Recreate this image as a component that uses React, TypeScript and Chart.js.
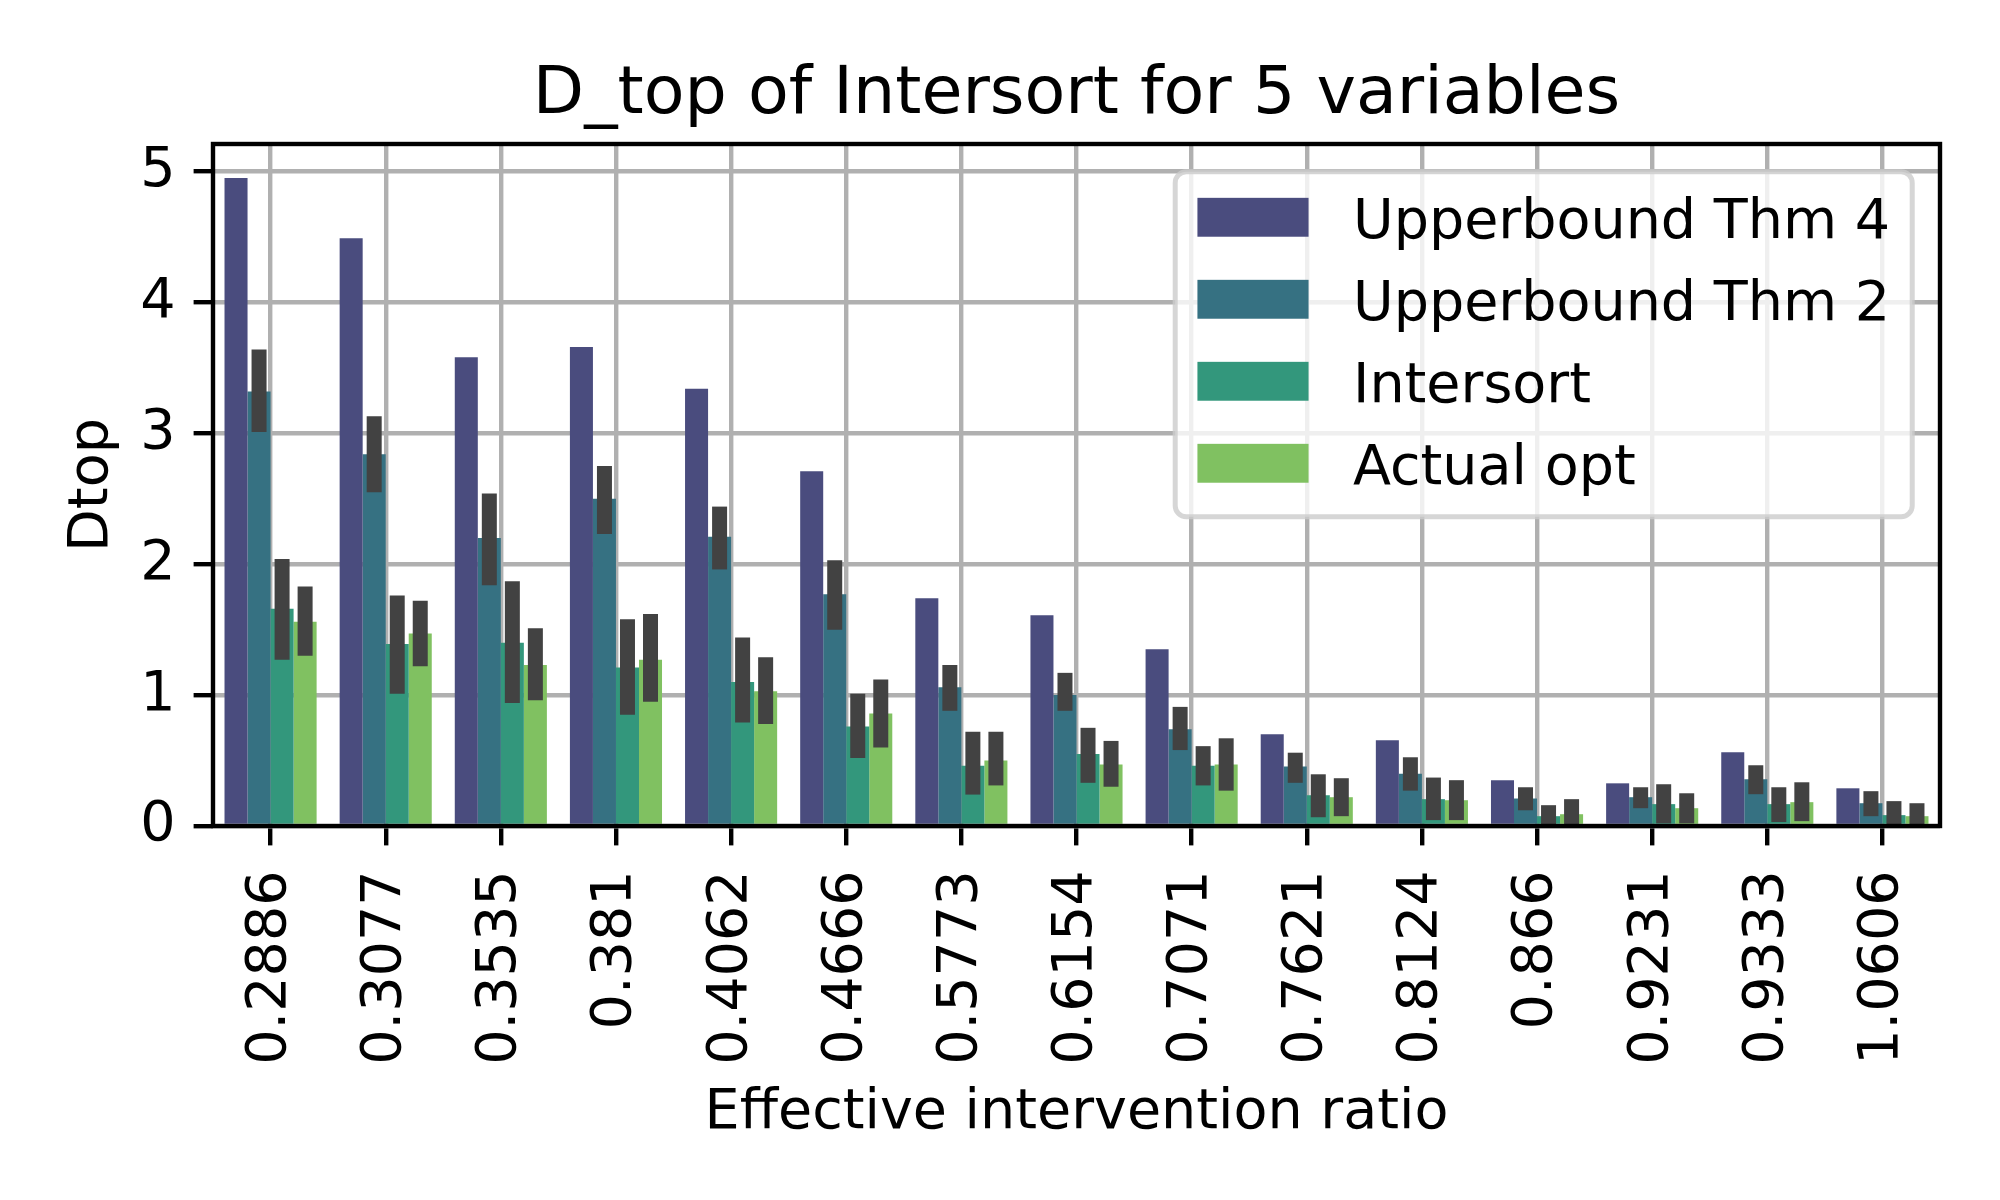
import React, { useEffect, useRef } from "react";
import { Chart, registerables } from "chart.js";

Chart.register(...registerables);

const categories = [
  "0.2886", "0.3077", "0.3535", "0.381", "0.4062", "0.4666", "0.5773", "0.6154",
  "0.7071", "0.7621", "0.8124", "0.866", "0.9231", "0.9333", "1.0606",
];

const chartTitle = "D_top of Intersort for 5 variables";
const xTitle = "Effective intervention ratio";
const yTitle = "Dtop";

const seriesLabels = ["Upperbound Thm 4", "Upperbound Thm 2", "Intersort", "Actual opt"];
const seriesColors = ["#4a4c7e", "#367182", "#33977c", "#80c161"];

const thm4 = [4.95, 4.49, 3.58, 3.66, 3.34, 2.71, 1.74, 1.61, 1.35, 0.70, 0.655, 0.35, 0.326, 0.563, 0.288];

const thm2 = [3.32, 2.84, 2.20, 2.50, 2.21, 1.77, 1.06, 1.0, 0.74, 0.455, 0.40, 0.21, 0.22, 0.357, 0.174];
const thm2Lo = [3.01, 2.55, 1.84, 2.23, 1.96, 1.50, 0.88, 0.88, 0.58, 0.33, 0.27, 0.12, 0.136, 0.243, 0.075];
const thm2Hi = [3.64, 3.13, 2.54, 2.75, 2.44, 2.03, 1.23, 1.17, 0.91, 0.56, 0.525, 0.296, 0.296, 0.464, 0.266];

const intersort = [1.66, 1.39, 1.40, 1.21, 1.10, 0.76, 0.46, 0.55, 0.46, 0.235, 0.205, 0.075, 0.167, 0.167, 0.083];
const intersortLo = [1.27, 1.01, 0.94, 0.85, 0.79, 0.52, 0.24, 0.33, 0.31, 0.067, 0.045, 0.005, 0.02, 0.03, 0.005];
const intersortHi = [2.04, 1.76, 1.87, 1.58, 1.44, 1.01, 0.72, 0.75, 0.61, 0.395, 0.37, 0.159, 0.319, 0.296, 0.19];

const actualOpt = [1.56, 1.47, 1.23, 1.27, 1.03, 0.86, 0.50, 0.47, 0.47, 0.22, 0.197, 0.09, 0.136, 0.182, 0.075];
const actualOptLo = [1.30, 1.22, 0.96, 0.95, 0.78, 0.60, 0.31, 0.30, 0.27, 0.075, 0.045, 0.005, 0.02, 0.037, 0.005];
const actualOptHi = [1.83, 1.72, 1.51, 1.62, 1.29, 1.12, 0.72, 0.65, 0.67, 0.365, 0.35, 0.205, 0.25, 0.334, 0.174];

const yTicks = [0, 1, 2, 3, 4, 5];

const FS = 55.56; // 10pt at 400 dpi
const TITLE_FS = 66.67; // 12pt
const FONT = "DejaVu Sans";

const errLo: (number[] | null)[] = [null, thm2Lo, intersortLo, actualOptLo];
const errHi: (number[] | null)[] = [null, thm2Hi, intersortHi, actualOptHi];

const overlayPlugin = {
  id: "mplOverlay",
  afterDraw(chart: any) {
    const ctx = chart.ctx as CanvasRenderingContext2D;
    const ca = chart.chartArea;
    const yScale = chart.scales.y;
    ctx.save();

    // error bars
    ctx.strokeStyle = "#424242";
    ctx.lineWidth = 15;
    ctx.lineCap = "butt";
    chart.data.datasets.forEach((_ds: any, i: number) => {
      const lo = errLo[i];
      const hi = errHi[i];
      if (!lo || !hi) return;
      const meta = chart.getDatasetMeta(i);
      meta.data.forEach((el: any, j: number) => {
        const y1 = yScale.getPixelForValue(lo[j]);
        const y2 = yScale.getPixelForValue(hi[j]);
        ctx.beginPath();
        ctx.moveTo(el.x, y1);
        ctx.lineTo(el.x, y2);
        ctx.stroke();
      });
    });

    // axes frame
    ctx.strokeStyle = "#000";
    ctx.lineWidth = 4.4;
    ctx.lineCap = "square";
    ctx.strokeRect(ca.left, ca.top, ca.right - ca.left, ca.bottom - ca.top);

    // title, centred over the axes
    ctx.fillStyle = "#000";
    ctx.font = `${TITLE_FS}px "${FONT}"`;
    ctx.textAlign = "center";
    ctx.textBaseline = "alphabetic";
    ctx.fillText(chartTitle, (ca.left + ca.right) / 2, ca.top - 31);

    // legend
    ctx.font = `${FS}px "${FONT}"`;
    const labels: string[] = chart.data.datasets.map((d: any) => d.label);
    const tw = Math.max(...labels.map((l) => ctx.measureText(l).width));
    const pad = 0.4 * FS;
    const handleW = 2 * FS;
    const handleH = 0.7 * FS;
    const gap = 0.8 * FS;
    const rowPitch = 82;
    const boxW = pad + handleW + gap + tw + pad;
    const boxH = 345;
    const right = ca.right - 0.5 * FS;
    const top = ca.top + 0.5 * FS;
    const left = right - boxW;
    const r = 0.2 * FS;
    ctx.beginPath();
    ctx.moveTo(left + r, top);
    ctx.lineTo(right - r, top);
    ctx.arcTo(right, top, right, top + r, r);
    ctx.lineTo(right, top + boxH - r);
    ctx.arcTo(right, top + boxH, right - r, top + boxH, r);
    ctx.lineTo(left + r, top + boxH);
    ctx.arcTo(left, top + boxH, left, top + boxH - r, r);
    ctx.lineTo(left, top + r);
    ctx.arcTo(left, top, left + r, top, r);
    ctx.closePath();
    ctx.fillStyle = "rgba(255,255,255,0.8)";
    ctx.fill();
    ctx.strokeStyle = "rgba(204,204,204,0.8)";
    ctx.lineWidth = 5;
    ctx.stroke();

    labels.forEach((lab, i) => {
      const cy = top + 45.5 + i * rowPitch;
      ctx.fillStyle = chart.data.datasets[i].backgroundColor;
      ctx.fillRect(left + pad, cy - handleH / 2, handleW, handleH);
      ctx.fillStyle = "#000";
      ctx.textAlign = "left";
      ctx.textBaseline = "alphabetic";
      ctx.fillText(lab, left + pad + handleW + gap, cy + 0.365 * FS);
    });

    ctx.restore();
  },
};

export default function App() {
  const ref = useRef<HTMLCanvasElement>(null);

  useEffect(() => {
    document.body.style.margin = "0";
    document.body.style.background = "#fff";
    if (!ref.current) return;
    Chart.defaults.font.family = FONT;
    Chart.defaults.color = "#000";

    const seriesValues = [thm4, thm2, intersort, actualOpt];
    const chart = new Chart(ref.current, {
      type: "bar",
      data: {
        labels: categories,
        datasets: seriesValues.map((vals, i) => ({
          label: seriesLabels[i],
          data: vals,
          backgroundColor: seriesColors[i],
          borderWidth: 0,
          categoryPercentage: 0.8,
          barPercentage: 1.0,
        })),
      },
      options: {
        responsive: false,
        animation: false,
        devicePixelRatio: 1,
        layout: { padding: { left: 0, right: 60, top: 144, bottom: 0 } },
        plugins: {
          legend: { display: false },
          tooltip: { enabled: false },
          title: { display: false },
        },
        scales: {
          x: {
            type: "category",
            offset: true,
            z: 1,
            grid: {
              offset: false,
              color: "#b0b0b0",
              lineWidth: 4.4,
              drawTicks: true,
              tickLength: 19.4,
              tickColor: "#000",
              tickWidth: 4.4,
            },
            border: { display: false },
            ticks: {
              autoSkip: false,
              minRotation: 90,
              maxRotation: 90,
              padding: 25,
              color: "#000",
              font: { size: FS, family: FONT },
            },
            title: {
              display: true,
              text: xTitle,
              color: "#000",
              font: { size: FS, family: FONT, lineHeight: 1.2 },
              padding: { top: 0, bottom: 53 },
            },
            afterFit: (s: any) => {
              s.height = 374;
            },
          },
          y: {
            min: 0,
            max: 5.21,
            z: 1,
            afterBuildTicks: (s: any) => {
              s.ticks = yTicks.map((v) => ({ value: v }));
            },
            grid: {
              color: "#b0b0b0",
              lineWidth: 4.4,
              drawTicks: true,
              tickLength: 19.4,
              tickColor: "#000",
              tickWidth: 4.4,
            },
            border: { display: false },
            ticks: {
              padding: 18,
              color: "#000",
              font: { size: FS, family: FONT },
              callback: (v: any) => String(v),
            },
            title: {
              display: true,
              text: yTitle,
              color: "#000",
              font: { size: FS, family: FONT, lineHeight: 1.2 },
              padding: { top: 59, bottom: 0 },
            },
            afterFit: (s: any) => {
              s.width = 213;
            },
          },
        },
      },
      plugins: [overlayPlugin],
    } as any);

    return () => chart.destroy();
  }, []);

  return (
    <div style={{ width: 2000, height: 1200, background: "#fff" }}>
      <canvas ref={ref} width={2000} height={1200} style={{ width: "2000px", height: "1200px", display: "block" }} />
    </div>
  );
}
